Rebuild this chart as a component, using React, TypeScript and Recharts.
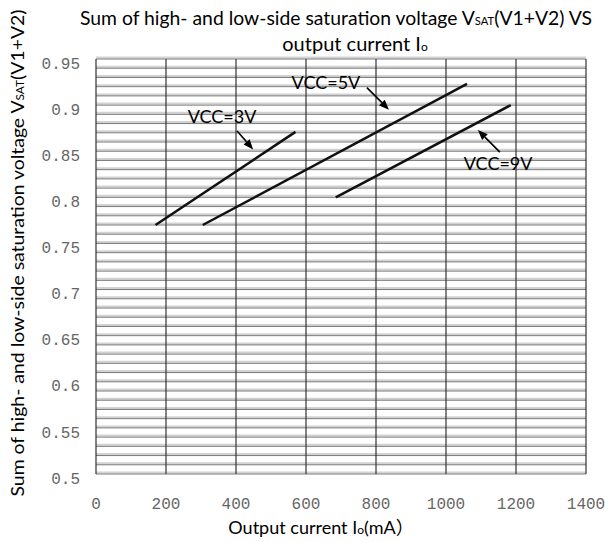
import React from 'react';
import {
  LineChart,
  Line,
  XAxis,
  YAxis,
  ReferenceLine,
  ReferenceDot,
  Customized,
} from 'recharts';

// chart values
const xTicks = [0, 200, 400, 600, 800, 1000, 1200, 1400];
const yTicks = [0.5, 0.55, 0.6, 0.65, 0.7, 0.75, 0.8, 0.85, 0.9, 0.95];

const vcc3V = [
  { io: 170, v: 0.77 },
  { io: 570, v: 0.871 },
];
const vcc5V = [
  { io: 305, v: 0.77 },
  { io: 1060, v: 0.923 },
];
const vcc9V = [
  { io: 685, v: 0.8 },
  { io: 1185, v: 0.9 },
];

const notes = [
  { label: 'VCC=3V', tx: 360, ty: 0.887, from: [403, 0.872], to: [449, 0.852] },
  { label: 'VCC=5V', tx: 657, ty: 0.924, from: [774, 0.919], to: [837, 0.895] },
  { label: 'VCC=9V', tx: 1149, ty: 0.837, from: [1154, 0.849], to: [1091, 0.873] },
];

// fine grid every 0.01
const gridY: number[] = [];
for (let i = 0; i <= 45; i++) gridY.push(Math.round((0.5 + i * 0.01) * 1000) / 1000);

const W = 605;
const H = 542;
const tickFont = { fontFamily: '"Liberation Mono", monospace', fontSize: 16, fill: '#666' };
const textFont = 'Lato, "Noto Sans", sans-serif';

function Arrow(props: any) {
  const { x1, y1, x2, y2 } = props;
  const a = Math.atan2(y2 - y1, x2 - x1);
  const len = 10;
  const hw = 4;
  const bx = x2 - len * Math.cos(a);
  const by = y2 - len * Math.sin(a);
  const px = -Math.sin(a) * hw;
  const py = Math.cos(a) * hw;
  return (
    <g>
      <line x1={x1} y1={y1} x2={bx} y2={by} stroke="#000" strokeWidth={1.6} />
      <polygon points={`${x2},${y2} ${bx + px},${by + py} ${bx - px},${by - py}`} fill="#000" />
    </g>
  );
}

// scanned-looking grid row: light band with a dark hairline under it
function GridRow(props: any) {
  const { x1, y1, x2 } = props;
  return (
    <g>
      <line x1={x1} y1={y1 - 1.5} x2={x2} y2={y1 - 1.5} stroke="#d2d2d2" strokeWidth={2} />
      <line x1={x1} y1={y1} x2={x2} y2={y1} stroke="#6a6a6a" strokeWidth={0.9} />
    </g>
  );
}

function Texts() {
  return (
    <g fontFamily={textFont} fill="#000">
      <text x={336} y={25} fontSize={19} textAnchor="middle" textLength={512} lengthAdjust="spacingAndGlyphs">
        Sum of high- and low-side saturation voltage V<tspan fontSize={11}>SAT</tspan>(V1+V2) VS
      </text>
      <text x={355} y={51} fontSize={20} textAnchor="middle">
        output current I<tspan fontSize={12}>o</tspan>
      </text>
      <text
        x={18}
        y={253}
        fontSize={18}
        textAnchor="middle"
        dy="0.35em"
        transform="rotate(-90 18 253)"
        textLength={487}
        lengthAdjust="spacingAndGlyphs"
      >
        Sum of high- and low-side saturation voltage V<tspan fontSize={11}>SAT</tspan>(V1+V2)
      </text>
      <text x={321} y={528} fontSize={18} textAnchor="middle" dy="0.35em">
        Output current I<tspan fontSize={12}>o</tspan>(mA
        <tspan fontFamily='"Noto Sans CJK JP", sans-serif'>）</tspan>
      </text>
    </g>
  );
}

export default function App() {
  return (
    <div style={{ position: 'absolute', left: 0, top: 0, width: W, height: H, background: '#fff' }}>
      <LineChart width={W} height={H} margin={{ top: 59, right: 19, bottom: 0, left: 0 }}>
        <XAxis
          type="number"
          dataKey="io"
          domain={[0, 1400]}
          ticks={xTicks}
          axisLine={false}
          tickLine={false}
          tickSize={0}
          tickMargin={24}
          height={68}
          tick={tickFont}
          allowDataOverflow
        />
        <YAxis
          type="number"
          dataKey="v"
          domain={[0.5, 0.95]}
          ticks={yTicks}
          axisLine={false}
          tickLine={false}
          tickSize={0}
          tickMargin={16}
          width={96}
          tick={{ ...tickFont, dy: 4 }}
          allowDataOverflow
        />
        {gridY.map((g) => (
          <ReferenceLine key={'g' + g} y={g} shape={GridRow} />
        ))}
        {xTicks.map((t) => (
          <ReferenceLine key={'v' + t} x={t} stroke="#333" strokeWidth={1.2} />
        ))}
        <Line data={vcc3V} dataKey="v" stroke="#111" strokeWidth={2.5} dot={false} isAnimationActive={false} />
        <Line data={vcc5V} dataKey="v" stroke="#111" strokeWidth={2.5} dot={false} isAnimationActive={false} />
        <Line data={vcc9V} dataKey="v" stroke="#111" strokeWidth={2.5} dot={false} isAnimationActive={false} />
        {notes.map((n) => (
          <ReferenceLine
            key={n.label + 'a'}
            segment={[
              { x: n.from[0], y: n.from[1] },
              { x: n.to[0], y: n.to[1] },
            ]}
            shape={Arrow}
          />
        ))}
        {notes.map((n) => (
          <ReferenceDot
            key={n.label}
            x={n.tx}
            y={n.ty}
            r={0}
            shape={(p: any) => (
              <text
                x={p.cx}
                y={p.cy}
                dy="0.35em"
                textAnchor="middle"
                fontFamily={textFont}
                fontSize={18}
                fill="#000"
              >
                {n.label}
              </text>
            )}
          />
        ))}
        <Customized component={Texts} />
      </LineChart>
    </div>
  );
}
